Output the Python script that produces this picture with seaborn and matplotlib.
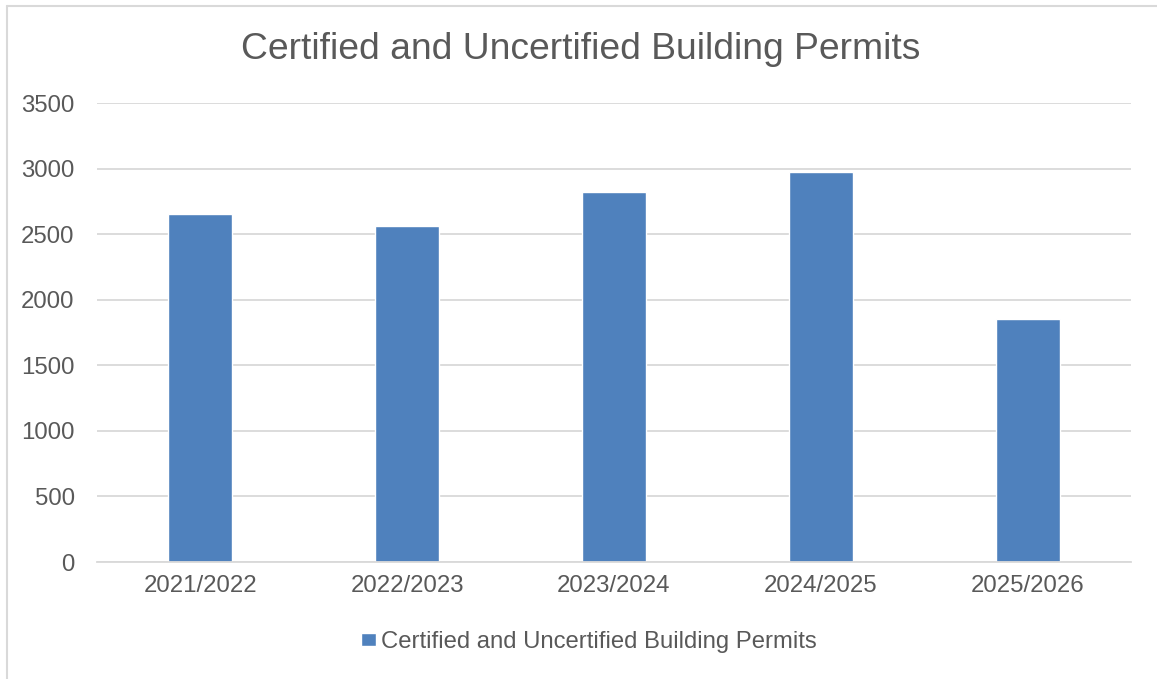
import matplotlib.pyplot as plt
import seaborn as sns
from matplotlib.lines import Line2D

# chart data
seasons = ["2021/2022", "2022/2023", "2023/2024", "2024/2025", "2025/2026"]
permits = [2655, 2565, 2820, 2975, 1850]
series_name = "Certified and Uncertified Building Permits"
y_ticks = [0, 500, 1000, 1500, 2000, 2500, 3000, 3500]

bar_color = "#4F81BD"
text_color = "#595959"
grid_color = "#D9D9D9"

sns.set_style("white")
plt.rcParams["font.family"] = ["Liberation Sans", "DejaVu Sans"]

fig = plt.figure(figsize=(11.57, 6.79), dpi=100)
ax = fig.add_axes([0.0838, 0.1723, 0.8937, 0.6760])

sns.barplot(x=seasons, y=permits, color=bar_color, width=0.31,
            saturation=1, label=series_name, ax=ax)

ax.set_ylim(0, 3500)
ax.set_yticks(y_ticks)
ax.set_yticklabels([str(t) for t in y_ticks])
ax.yaxis.grid(True, color=grid_color, linewidth=1.3)
ax.set_axisbelow(True)
for side in ["top", "right", "left"]:
    ax.spines[side].set_visible(False)
ax.spines["bottom"].set_color(grid_color)
ax.spines["bottom"].set_linewidth(1.3)
ax.tick_params(axis="y", length=0, pad=16, labelsize=17.3, labelcolor=text_color)
ax.tick_params(axis="x", length=0, pad=9, labelsize=17.3, labelcolor=text_color)
ax.set_xlabel("")
ax.set_ylabel("")

fig.text(0.5015, 0.927, series_name, ha="center", va="center",
         fontsize=26.8, color=text_color)

leg = ax.legend(loc="center", bbox_to_anchor=(0.509, 0.0545),
                bbox_transform=fig.transFigure, frameon=False,
                fontsize=17.2, handlelength=0.62, handleheight=0.45,
                handletextpad=0.2)
for t in leg.get_texts():
    t.set_color(text_color)

# light chart-area border (left and top edges visible)
fig.add_artist(Line2D([7 / 1157, 7 / 1157], [0, 1 - 6 / 679],
                      transform=fig.transFigure, color=grid_color, lw=1.5))
fig.add_artist(Line2D([7 / 1157, 1], [1 - 6 / 679, 1 - 6 / 679],
                      transform=fig.transFigure, color=grid_color, lw=1.5))

fig.savefig("out.png", dpi=100)
plt.close(fig)
